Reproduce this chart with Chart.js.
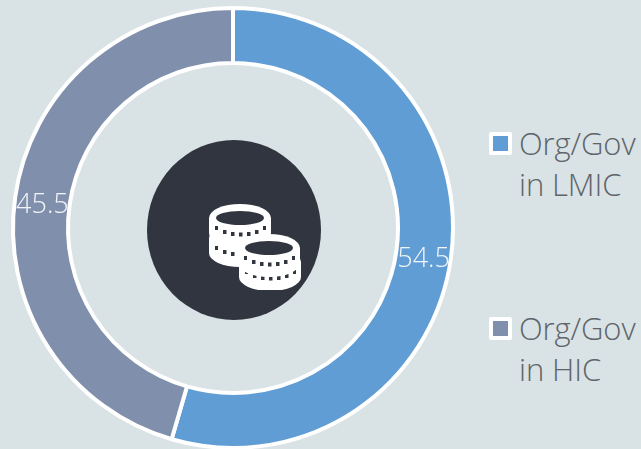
<!DOCTYPE html>
<html>
<head>
<meta charset="utf-8">
<script src="https://cdn.jsdelivr.net/npm/chart.js@4"></script>
<style>
  html, body { margin: 0; padding: 0; width: 641px; height: 449px; overflow: hidden; background: #d9e2e5; }
  body { position: relative; font-family: "Open Sans", sans-serif; font-weight: 300; }
  #chartBox { position: absolute; left: 0; top: 0; width: 468px; height: 452px; }
  #hub { position: absolute; left: 147px; top: 140px; width: 174px; height: 180px; border-radius: 50%; background: #30353f; }
  #icon { position: absolute; left: 200px; top: 195px; }
  .key { position: absolute; left: 489px; width: 23px; height: 23px; box-sizing: border-box; border: 4px solid #fff; border-radius: 2px; }
  .label { position: absolute; left: 519px; font-size: 31px; line-height: 41px; color: #5f6569; white-space: nowrap; letter-spacing: -0.1px; }
</style>
</head>
<body>
<div id="chartBox"><canvas id="ring"></canvas></div>
<div id="hub"></div>
<svg id="icon" width="110" height="95" viewBox="200 195 110 95">
  <defs>
    <g id="coin">
      <path d="M-31 0 A31 14 0 0 1 31 0 V15 A31 14 0 0 1 -31 15 Z" fill="#fff"/>
      <ellipse cx="0" cy="0" rx="24" ry="7" fill="#30353f"/>
      <g fill="#30353f">
        <rect x="-25" y="8" width="3" height="4"/><rect x="-17" y="12" width="3.5" height="4"/>
        <rect x="-9" y="14" width="3.5" height="4"/><rect x="-1" y="14.5" width="3.5" height="4"/>
        <rect x="7" y="14" width="3.5" height="4"/><rect x="15" y="12" width="3.5" height="4"/>
        <rect x="23" y="8" width="3" height="4"/>
      </g>
    </g>
  </defs>
  <use href="#coin" x="240" y="238"/>
  <use href="#coin" x="240" y="218"/>
  <use href="#coin" x="270" y="262"/>
  <use href="#coin" x="269" y="248"/>
</svg>
<div class="key" id="key0" style="top:132px"></div>
<div class="label" id="label0" style="top:123px"></div>
<div class="key" id="key1" style="top:317px"></div>
<div class="label" id="label1" style="top:308px"></div>
<script>
const categories = ['Org/Gov\nin LMIC', 'Org/Gov\nin HIC'];
const shares = [54.5, 45.5];
const shareLabels = ['54.5', '45.5'];
const sliceColors = ['#5f9dd4', '#7f8fac'];

// slice values written on top of the ring
const ringLabels = {
    id: 'ringLabels',
    afterDatasetsDraw(chart) {
        const ctx = chart.ctx;
        ctx.save();
        ctx.font = '300 27px "Open Sans", sans-serif';
        ctx.fillStyle = '#f2f5f7';
        ctx.textAlign = 'center';
        ctx.textBaseline = 'middle';
        chart.getDatasetMeta(0).data.forEach((arc, i) => {
            const p = arc.getCenterPoint();
            ctx.fillText(shareLabels[i], p.x, p.y + 4);
        });
        ctx.restore();
    }
};

new Chart(document.getElementById('ring'), {
    type: 'doughnut',
    data: {
        labels: categories,
        datasets: [{
            data: shares,
            backgroundColor: sliceColors,
            borderColor: '#ffffff',
            borderWidth: 4,
            borderAlign: 'center'
        }]
    },
    options: {
        responsive: true,
        maintainAspectRatio: false,
        animation: false,
        cutout: '75%',
        layout: { padding: { left: 11, right: 13, top: 4, bottom: 0 } },
        plugins: { legend: { display: false }, tooltip: { enabled: false } }
    },
    plugins: [ringLabels]
});

categories.forEach((name, i) => {
    document.getElementById('key' + i).style.background = sliceColors[i];
    document.getElementById('label' + i).innerHTML = name.replace('\n', '<br>');
});
</script>
</body>
</html>
